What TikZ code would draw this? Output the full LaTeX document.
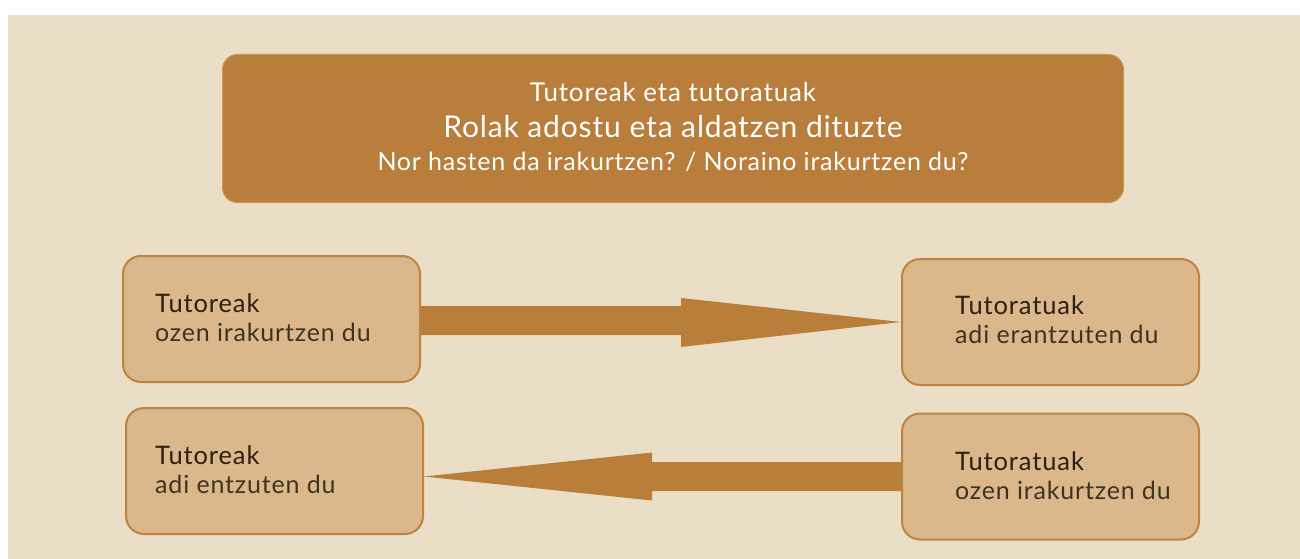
\documentclass[tikz,border=0pt]{standalone}
\usepackage{fontspec}
\setmainfont{Lato}
\usetikzlibrary{calc}
\definecolor{bgc}{HTML}{EBDEC7}
\definecolor{headc}{HTML}{B97E3C}
\definecolor{headb}{HTML}{C8955A}
\definecolor{boxc}{HTML}{DAB88B}
\definecolor{boxb}{HTML}{BE843F}
\definecolor{arrc}{HTML}{B97F3A}
\definecolor{txtd}{HTML}{2B1F10}
\definecolor{txtl}{HTML}{3F3220}
\tikzset{
  rolebox/.style={draw=boxb, line width=2pt, fill=boxc, rounded corners=18pt,
    minimum width=297pt, minimum height=126pt, inner sep=0pt},
  headbox/.style={draw=headb, line width=1pt, fill=headc, rounded corners=15pt,
    minimum width=901pt, minimum height=148pt, inner sep=0pt},
  rolehead/.style={anchor=base west, inner sep=0pt, text=txtd,
    font=\fontsize{25.5}{28}\selectfont\addfontfeature{LetterSpace=3.5}},
  roletext/.style={anchor=base west, inner sep=0pt, text=txtl,
    font=\fontsize{25}{28}\selectfont\addfontfeature{LetterSpace=3.3}},
  titletext/.style={anchor=base, inner sep=0pt, text=white},
  fatarrow/.style={fill=arrc}
}
\begin{document}
\begin{tikzpicture}[x=1pt,y=-1pt]
\useasboundingbox (0,0) rectangle (1300,559);
\fill[white] (0,0) rectangle (1300,559);
\fill[bgc] (8,15) rectangle (1300,559);

\node[headbox] (head) at (673,128.5) {};
\node[titletext, font=\fontsize{26}{30}\selectfont\addfontfeature{LetterSpace=3.3}] (t1) at (673,101.5) {Tutoreak eta tutoratuak};
\node[titletext, font=\fontsize{30}{34}\selectfont\addfontfeature{LetterSpace=2.9}] (t2) at (673,137) {Rolak adostu eta aldatzen dituzte};
\node[titletext, font=\fontsize{25}{28}\selectfont\addfontfeature{LetterSpace=3.1}] (t3) at (673,170) {Nor hasten da irakurtzen? / Noraino irakurtzen du?};

\node[rolebox] (b1) at (271.5,319) {};
\node[rolebox] (b2) at (1050.5,322) {};
\node[rolebox] (b3) at (274.5,471) {};
\node[rolebox] (b4) at (1050.5,476.5) {};

\node[rolehead] (b1h) at (155,312) {Tutoreak};
\node[roletext] (b1t) at (155,341) {ozen irakurtzen du};
\node[rolehead] (b2h) at (955,314) {Tutoratuak};
\node[roletext] (b2t) at (955,343) {adi erantzuten du};
\node[rolehead] (b3h) at (155,464) {Tutoreak};
\node[roletext] (b3t) at (155,493) {adi entzuten du};
\node[rolehead] (b4h) at (955,470) {Tutoratuak};
\node[roletext] (b4t) at (955,499) {ozen irakurtzen du};

% arrow b1 -> b2
\fill[fatarrow] let \p1=(b1.east), \p2=(b2.west) in
  (\x1,\y2+16pt) -- (\x2-220pt,\y2+16pt) -- (\x2-220pt,\y2+24pt) --
  (\x2,\y2) -- (\x2-220pt,\y2-25pt) -- (\x2-220pt,\y2-13pt) --
  (\x1,\y2-13pt) -- cycle;
% arrow b4 -> b3
\fill[fatarrow] let \p1=(b4.west), \p2=(b3.east) in
  (\x1,\y1+14.5pt) -- (\x2+228pt,\y1+14.5pt) -- (\x2+228pt,\y1+24pt) --
  (\x2,\y1) -- (\x2+228pt,\y1-24pt) -- (\x2+228pt,\y1-14.5pt) --
  (\x1,\y1-14.5pt) -- cycle;
\end{tikzpicture}
\end{document}
